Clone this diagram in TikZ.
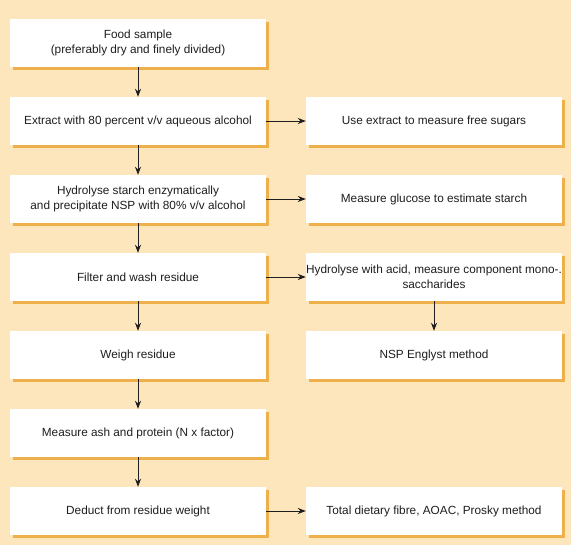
\documentclass[tikz,border=0pt]{standalone}
\usepackage{fontspec}
\setmainfont{Liberation Sans}
\usetikzlibrary{shadows,arrows.meta}
\definecolor{peach}{RGB}{253,229,188}
\definecolor{shade}{RGB}{238,176,74}
\definecolor{ink}{RGB}{30,30,30}
\tikzset{
  stepbox/.style={fill=white, minimum width=256pt, minimum height=48pt,
    inner sep=0pt, align=center, text=ink,
    font=\fontsize{11.8}{14.5}\selectfont,
    drop shadow={shadow xshift=3pt, shadow yshift=-3pt, fill=shade, opacity=1}},
  flow/.style={-{Stealth[length=8pt,width=6pt]}, ink, line width=0.8pt},
}
\begin{document}
\begin{tikzpicture}[x=1pt,y=-1pt]
\fill[peach] (0,0) rectangle (571,545);
\useasboundingbox (0,0) rectangle (571,545);
% left column
\node[stepbox] (sample) at (138,43) {Food sample\\(preferably dry and finely divided)};
\node[stepbox] (extract) at (138,121) {Extract with 80 percent v/v aqueous alcohol};
\node[stepbox] (hydro) at (138,199) {Hydrolyse starch enzymatically\\and precipitate NSP with 80\% v/v alcohol};
\node[stepbox] (filter) at (138,277) {Filter and wash residue};
\node[stepbox] (weigh) at (138,355) {Weigh residue};
\node[stepbox] (ash) at (138,433) {Measure ash and protein (N x factor)};
\node[stepbox] (deduct) at (138,511) {Deduct from residue weight};
% right column
\node[stepbox] (sugars) at (434,121) {Use extract to measure free sugars};
\node[stepbox] (glucose) at (434,199) {Measure glucose to estimate starch};
\node[stepbox] (acid) at (434,277) {Hydrolyse with acid, measure component mono-.\\saccharides};
\node[stepbox] (englyst) at (434,355) {NSP Englyst method};
\node[stepbox] (total) at (434,511) {Total dietary fibre, AOAC, Prosky method};
% arrows
\foreach \a/\b in {sample/extract,extract/hydro,hydro/filter,filter/weigh,weigh/ash,ash/deduct,acid/englyst}
\draw[flow] (\a) -- (\b);
\foreach \a/\b in {extract/sugars,hydro/glucose,filter/acid,deduct/total}
\draw[flow] (\a) -- (\b);
\end{tikzpicture}
\end{document}
